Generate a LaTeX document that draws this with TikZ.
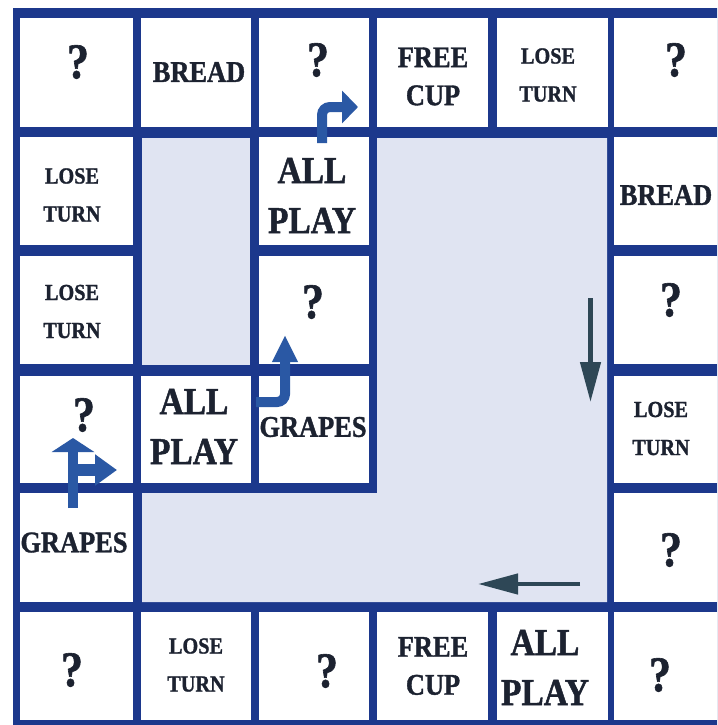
\documentclass[tikz,border=0pt]{standalone}
\usepackage{fontspec}
\newfontfamily\boardfont{Liberation Serif}[FakeStretch=0.88,FakeBold=1.2]
\usetikzlibrary{arrows.meta}
\definecolor{boardblue}{RGB}{28,56,140}
\definecolor{panelgray}{RGB}{224,228,242}
\definecolor{inktext}{RGB}{28,34,48}
\definecolor{arrowblue}{RGB}{42,88,164}
\definecolor{arrowdark}{RGB}{46,71,86}
\tikzset{
  cell/.style={fill=white, draw=none, inner sep=0pt},
  c1/.style={minimum width=113pt}, c2/.style={minimum width=110pt},
  c3/.style={minimum width=110pt}, c4/.style={minimum width=111pt},
  c5/.style={minimum width=111pt}, c6/.style={minimum width=116pt},
  r1/.style={minimum height=109pt}, r2/.style={minimum height=108pt},
  r3/.style={minimum height=108pt}, r4/.style={minimum height=107pt},
  r5/.style={minimum height=109pt}, r6/.style={minimum height=108pt},
  txt/.style={text=inktext, inner sep=0pt, align=center},
  qm/.style={txt, font=\boardfont\bfseries\fontsize{50}{50}\selectfont},
  bigt/.style={txt, font=\boardfont\bfseries\fontsize{38}{50}\selectfont},
  midt/.style={txt, font=\boardfont\bfseries\fontsize{30}{38}\selectfont},
  smallt/.style={txt, font=\boardfont\bfseries\fontsize{23}{38}\selectfont},
  barrow/.style={draw=arrowblue, line width=10pt, rounded corners=8pt},
  darrow/.style={draw=arrowdark, line width=4.5pt, -{Triangle[length=40pt,width=20pt]}}
}
\begin{document}
\begin{tikzpicture}[x=1pt,y=-1pt]
\clip (0,0) rectangle (717,725);
\fill[white] (0,0) rectangle (717,725);
\fill[boardblue] (13,8) rectangle (735,735);
% inner panels
\fill[panelgray] (142,138) rectangle (250,365);
\fill[panelgray] (377,138) -- (607,138) -- (607,602) -- (142,602) -- (142,493) -- (377,493) -- cycle;
% row 1
\node[cell,c1,r1] (c11) at (76.5,72.5) {};
\node[cell,c2,r1] (c12) at (196,72.5) {};
\node[cell,c3,r1] (c13) at (314,72.5) {};
\node[cell,c4,r1] (c14) at (432.5,72.5) {};
\node[cell,c5,r1] (c15) at (552.5,72.5) {};
\node[cell,c6,r1] (c16) at (672,72.5) {};
% row 2
\node[cell,c1,r2] (c21) at (76.5,191) {};
\node[cell,c3,r2] (c23) at (314,191) {};
\node[cell,c6,r2] (c26) at (672,191) {};
% row 3
\node[cell,c1,r3] (c31) at (76.5,310) {};
\node[cell,c3,r3] (c33) at (314,310) {};
\node[cell,c6,r3] (c36) at (672,310) {};
% row 4
\node[cell,c1,r4] (c41) at (76.5,429.5) {};
\node[cell,c2,r4] (c42) at (196,429.5) {};
\node[cell,c3,r4] (c43) at (314,429.5) {};
\node[cell,c6,r4] (c46) at (672,429.5) {};
% row 5
\node[cell,c1,r5] (c51) at (76.5,547.5) {};
\node[cell,c6,r5] (c56) at (672,547.5) {};
% row 6
\node[cell,c1,r6] (c61) at (76.5,666) {};
\node[cell,c2,r6] (c62) at (196,666) {};
\node[cell,c3,r6] (c63) at (314,666) {};
\node[cell,c4,r6] (c64) at (432.5,666) {};
\node[cell,c5,r6] (c65) at (552.5,666) {};
\node[cell,c6,r6] (c66) at (672,666) {};
% texts
\node[qm] (t11) at (78,62) {?};
\node[midt] (t12) at (199,72) {BREAD};
\node[qm] (t13) at (318,60) {?};
\node[midt] (t14) at (433,76.5) {FREE\\CUP};
\node[smallt] (t15) at (548,75) {LOSE\\TURN};
\node[qm] (t16) at (676,60) {?};
\node[smallt] (t21) at (72,195) {LOSE\\TURN};
\node[bigt] (t23) at (312,195.5) {ALL\\PLAY};
\node[midt] (t26) at (666,195) {BREAD};
\node[smallt] (t31) at (72,311.5) {LOSE\\TURN};
\node[qm] (t33) at (313,302) {?};
\node[qm] (t36) at (671,300) {?};
\node[qm] (t41) at (84,415) {?};
\node[bigt] (t42) at (194,426.5) {ALL\\PLAY};
\node[midt] (t43) at (313,427) {GRAPES};
\node[smallt] (t46) at (661,428.5) {LOSE\\TURN};
\node[midt] (t51) at (74,542.5) {GRAPES};
\node[qm] (t56) at (671,550) {?};
\node[qm] (t61) at (72,670) {?};
\node[smallt] (t62) at (196,665) {LOSE\\TURN};
\node[qm] (t63) at (327,671) {?};
\node[midt] (t64) at (433,666) {FREE\\CUP};
\node[bigt] (t65) at (545,667.5) {ALL\\PLAY};
\node[qm] (t66) at (660,675) {?};
% blue bent arrows
\coordinate (a1s) at (322,143);
\coordinate (a1e) at (358,107);
\draw[barrow, -{Triangle[length=16pt,width=32pt]}] (a1s) |- (a1e);
\coordinate (a2s) at (256,402);
\coordinate (a2e) at (285,335);
\draw[barrow, -{Triangle[length=27pt,width=24pt]}] (a2s) -| (a2e);
\coordinate (a3s) at (73,508);
\coordinate (a3e) at (73,438);
\coordinate (a3b) at (73,470);
\coordinate (a3r) at (117,470);
\draw[barrow, -{Triangle[length=14pt,width=42pt]}] (a3s) -- (a3e);
\draw[barrow, line width=12pt, -{Triangle[length=22pt,width=30pt]}] (a3b) -- (a3r);
% dark arrows
\coordinate (d1s) at (590.5,298);
\coordinate (d1e) at (590.5,402);
\draw[darrow] (d1s) -- (d1e);
\coordinate (d2s) at (580,584);
\coordinate (d2e) at (478,584);
\draw[darrow] (d2s) -- (d2e);
\end{tikzpicture}
\end{document}
